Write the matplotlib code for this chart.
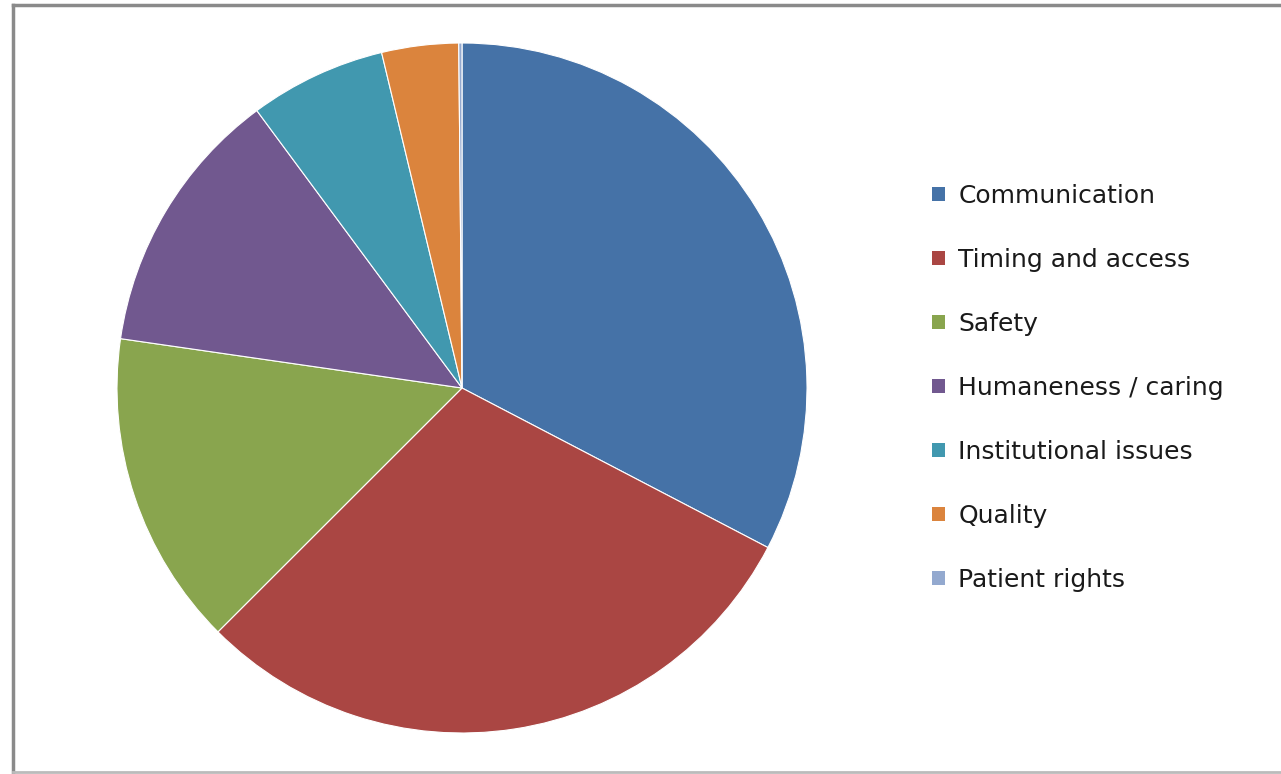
import numpy as np
import matplotlib.pyplot as plt
from matplotlib.lines import Line2D
from matplotlib.patches import Patch

labels = ['Communication', 'Timing and access', 'Safety', 'Humaneness / caring',
          'Institutional issues', 'Quality', 'Patient rights']
values = [32.7, 29.9, 14.8, 12.6, 6.4, 3.6, 0.15]
colors = ['#4572A7', '#AA4643', '#89A54E', '#71588F', '#4198AF', '#DB843D', '#93A9CF']

W, H = 1281, 774
fig = plt.figure(figsize=(W/100, H/100), dpi=100)
fig.patch.set_facecolor('white')

# pie placed by pixel: centre (462,388), radius 345
cx, cy, r = 462, 388, 345
ax = fig.add_axes([(cx-r)/W, (H-cy-r)/H, 2*r/W, 2*r/H])
wedges, _ = ax.pie(values, colors=colors, startangle=90, counterclock=False,
                   radius=1, wedgeprops=dict(edgecolor='white', linewidth=0.8))
ax.set_xlim(-1, 1)
ax.set_ylim(-1, 1)
ax.set_aspect('equal')
ax.axis('off')

handles = [Patch(facecolor=c, edgecolor='none') for c in colors]
fig.legend(handles, labels, loc='upper left', bbox_to_anchor=(922/W, 1-174/H),
           frameon=False, fontsize=18, handlelength=0.5, handleheight=0.5,
           handletextpad=0.55, labelspacing=1.6, borderaxespad=0,
           labelcolor='#1a1a1a')

# outer frame
gc = '#8a8a8a'
fig.add_artist(Line2D([13/W, 13/W], [1-5/H, 1-772/H], color=gc, lw=2.5, transform=fig.transFigure))
fig.add_artist(Line2D([13/W, 1.0], [1-5/H, 1-5/H], color=gc, lw=2.5, transform=fig.transFigure))
fig.add_artist(Line2D([13/W, 1.0], [1-772/H, 1-772/H], color='#bbbbbb', lw=2, transform=fig.transFigure))

fig.savefig('out.png', dpi=100)
